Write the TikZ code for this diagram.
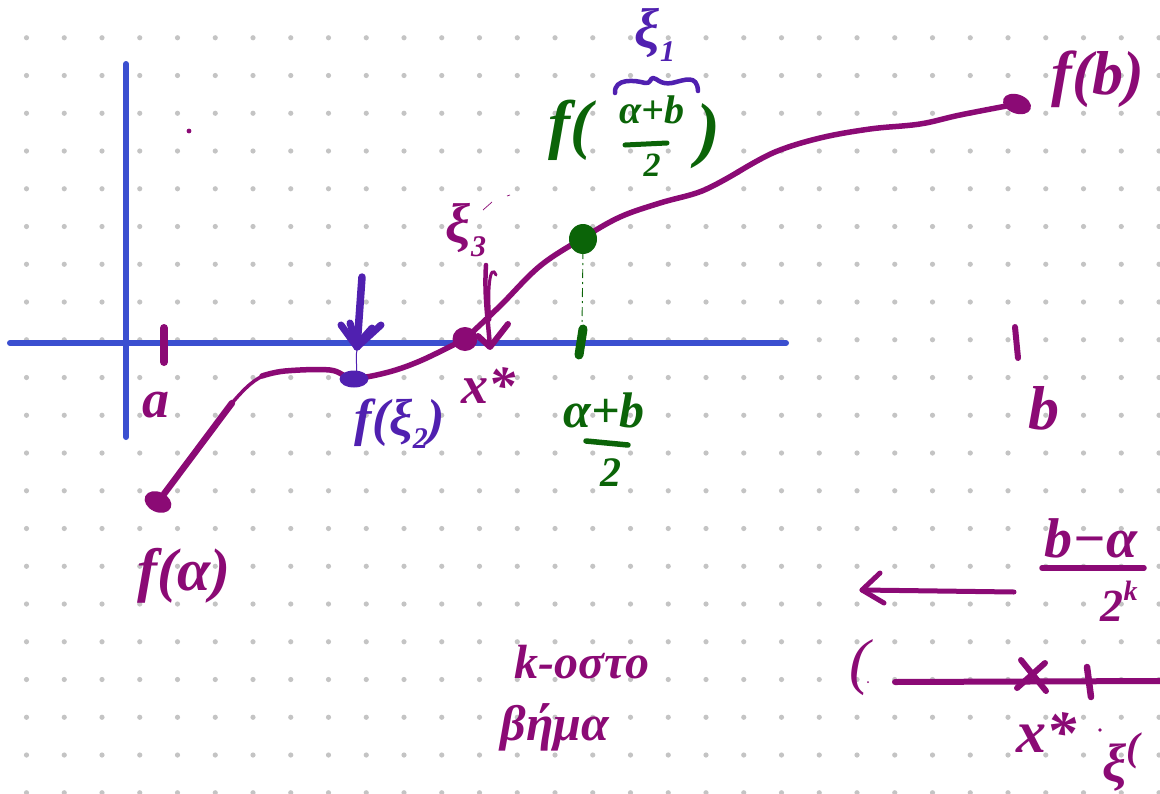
\documentclass[tikz,border=0pt]{standalone}
\usepackage{fontspec}
\setmainfont{Liberation Serif}
\definecolor{pur}{HTML}{8B0A75}
\definecolor{vio}{HTML}{5020B0}
\definecolor{grn}{HTML}{0B6408}
\definecolor{blu}{HTML}{3B4FD0}
\definecolor{gridd}{HTML}{C4C4C4}
\tikzset{
  ink/.style={line cap=round,line join=round,line width=6pt},
  lab/.style={inner sep=0pt,outer sep=0pt,font=\bfseries\itshape\fontsize{#1}{#1}\selectfont},
  blob/.style={inner sep=0pt,outer sep=0pt,ellipse},
}
\usetikzlibrary{shapes.geometric}
\newcommand{\sbs}[1]{\raisebox{-0.25em}{\fontsize{30}{30}\selectfont #1}}
\begin{document}
\begin{tikzpicture}[x=1pt,y=-1pt]
\useasboundingbox (0,0) rectangle (1160,793);
\fill[white] (0,0) rectangle (1160,793);
% dot grid
\foreach \i in {0,...,30}{\foreach \j in {1,...,21}{
  \fill[gridd] ({26.5+37.75*\i},{37.75*\j}) circle (2.6pt);}}
% axes
\coordinate (xs) at (10,343); \coordinate (xe) at (786,343);
\coordinate (ys) at (126,64); \coordinate (ye) at (126,437);
\draw[blu,ink] (xs) -- (xe);
\draw[blu,ink] (ys) -- (ye);
% curve end points
\node[blob,fill=pur,minimum width=28pt,minimum height=20pt,rotate=-25] (fa) at (158,502) {};
\node[blob,fill=pur,minimum width=29pt,minimum height=19pt,rotate=-20] (fbdot) at (1017,104) {};
\node[blob,fill=pur,minimum width=25pt,minimum height=24pt] (xstar) at (465,339) {};
% curve
\draw[pur,ink,line width=6.5pt] (fa) -- (232,403);
\draw[pur,ink,line width=3.5pt] (232,403) .. controls (245,388) and (255,378) .. (268,374);
\draw[pur,ink,line width=5.5pt] plot[smooth,tension=0.6] coordinates {(262,376) (285,371) (330,370) (352,378) (385,373) (420,361) (465,339)};
\draw[pur,ink,line width=5.5pt] plot[smooth,tension=0.6] coordinates {(465,339) (500,306) (540,266) (583,238) (620,217) (660,203) (702,191) (738,172)};
\draw[pur,ink,line width=5.5pt] plot[smooth,tension=0.6] coordinates {(738,172) (775,152) (820,138) (870,129) (920,124) (960,115) (1017,104)};
% ticks
\draw[pur,ink,line width=8pt] (164,328) -- (164,362);
\draw[pur,ink,line width=6pt] (1015,327) -- (1018,358);
\draw[grn,ink,line width=9pt] (583,329) -- (579,355);
% green point and dash-dot
\draw[grn,line width=0.9pt,dash pattern=on 9pt off 4pt on 2pt off 4pt] (583,250) -- (582,325);
\node[blob,fill=grn,minimum width=28pt,minimum height=30pt] (midpt) at (583,239) {};
% violet point and arrow
\draw[vio,line width=1pt] (357,350) .. controls (355,360) and (358,368) .. (356,376);
\node[blob,fill=vio,minimum width=29pt,minimum height=17pt] (xiz) at (354,379) {};
\coordinate (va) at (362,277); \coordinate (vt) at (357,347);
\draw[vio,ink,line width=7.5pt] (va) -- (vt);
\draw[vio,ink,line width=7pt] (341,325) -- (vt) -- (381,325);
\draw[vio,ink,line width=7pt] (350,323) -- (357,345) -- (372,328);
% purple xi3 arrow
\coordinate (pa) at (486,265); \coordinate (pt) at (490,347);
\draw[pur,ink,line width=4.5pt] (pa) .. controls (484,295) and (488,320) .. (pt);
\draw[pur,line width=3pt,line cap=round] (496,275) .. controls (490,262) and (487,290) .. (490,320);
\draw[pur,ink,line width=6pt] (478,336) -- (pt) -- (508,324);
% thin dashes near xi3
\draw[pur,line width=0.7pt] (483,210) -- (492,202);
\draw[pur,line width=0.7pt] (507,196) -- (510,195);
\fill[pur] (189,131) circle (2.4pt);
% brace
\draw[vio,ink,line width=4.5pt] (615,93) .. controls (614,78) and (635,80) .. (645,83) .. controls (651,84) and (650,78) .. (653,78) .. controls (657,78) and (660,85) .. (672,83) .. controls (685,80) and (697,74) .. (698,91);
% fraction bars
\draw[grn,ink,line width=5pt] (625,145) -- (667,143);
\draw[grn,ink,line width=5.5pt] (586,441) -- (628,445);
\draw[pur,ink,line width=5.5pt] (1042,568) -- (1144,568);
% bottom right
\coordinate (aw) at (1014,592); \coordinate (at) at (862,590);
\draw[pur,ink,line width=5pt] (aw) -- (at);
\draw[pur,ink,line width=5pt] (880,573) -- (at) -- (884,603);
\coordinate (ls) at (895,682); \coordinate (le) at (1160,681);
\draw[pur,ink,line width=6pt] (ls) -- (le);
\draw[pur,ink] (1021,660) -- (1046,691);
\draw[pur,ink] (1045,663) -- (1017,688);
\draw[pur,ink,line width=6.5pt] (1087,667) -- (1091,697);
\fill[pur] (868,682) circle (1pt);
\fill[pur] (1100,730) circle (1.8pt);
% labels
\node[lab=62,text=pur] (lfb) at (1098,79) {f(b)};
\node[lab=54,text=pur] (la) at (156,405) {a};
\node[lab=62,text=pur] (lb) at (1044,408) {b};
\node[lab=52,text=vio] (lfxi) at (400,424) {f(ξ\sbs{2})};
\node[lab=54,text=pur] (lxs) at (488,386) {x*};
\node[lab=56,text=pur] (lxi3) at (466,230) {ξ\sbs{3}};
\node[lab=56,text=vio] (lxi1) at (655,35) {ξ\sbs{1}};
\node[lab=66,text=grn] (lf) at (570,130) {f(};
\node[lab=40,text=grn,align=center] (lnum) at (652,136) {α+b\\[13pt]{\fontsize{34}{34}\selectfont 2}};
\node[lab=72,text=grn] (lrp) at (708,136) {)};
\node[lab=50,text=grn] (lnum2) at (604,410) {α+b};
\node[lab=42,text=grn] (lden2) at (611,473) {2};
\node[lab=60,text=pur] (lfa) at (184,576) {f(α)};
\node[lab=56,text=pur] (lbma) at (1091,538) {b−α};
\node[lab=46,text=pur] (l2k) at (1119,601) {2\raisebox{0.45em}{\fontsize{28}{28}\selectfont k}};
\node[lab=58,text=pur,font=\mdseries\itshape\fontsize{62}{62}\selectfont] (lpar) at (860,668) {(};
\node[lab=60,text=pur] (lxs2) at (1046,733) {x*};
\node[lab=54,text=pur,anchor=west] (lxik) at (1102,762) {ξ\raisebox{0.4em}{\fontsize{40}{40}\selectfont (}};
\node[lab=48,text=pur] (lkost) at (582,662) {k-οστο};
\node[lab=50,text=pur] (lbima) at (555,727) {βήμα};
\end{tikzpicture}
\end{document}
